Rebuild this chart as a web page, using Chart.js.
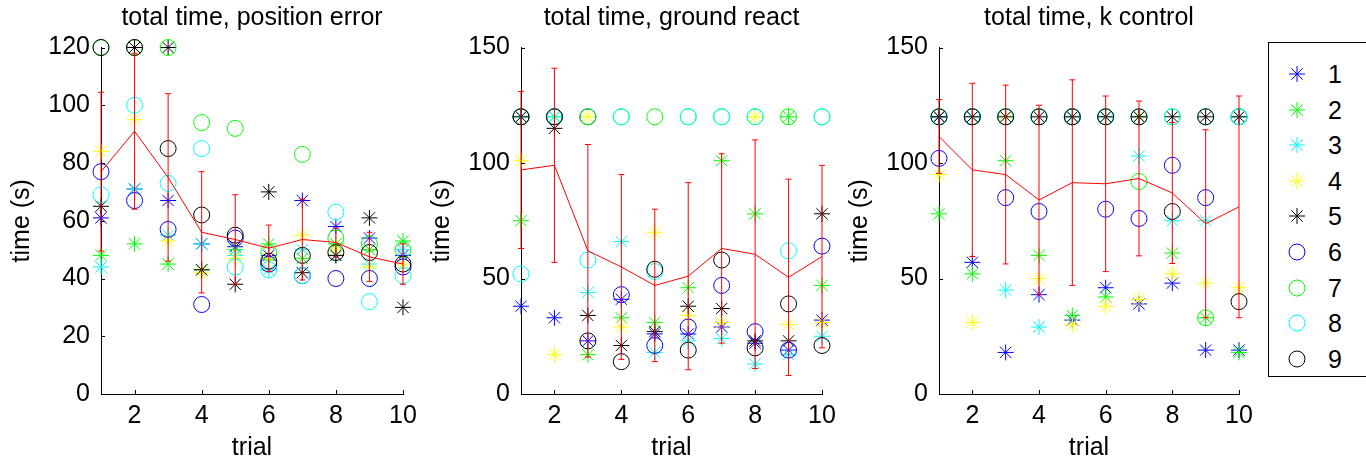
<!DOCTYPE html>
<html>
<head>
<meta charset="utf-8">
<script src="https://cdn.jsdelivr.net/npm/chart.js@4.4.1/dist/chart.umd.min.js"></script>
<style>
  html, body { margin: 0; padding: 0; background: #fff; }
  body { width: 1366px; height: 465px; position: relative; overflow: hidden; font-family: "Liberation Sans", Arial, sans-serif; }
  .panel { position: absolute; top: 0; height: 465px; }
  #legend { position: absolute; left: 1268px; top: 42px; width: 130px; height: 335px; border: 1px solid #000; background: #fff; box-sizing: border-box; }
  .entry { position: absolute; left: 0; width: 100%; height: 30px; }
  .entry svg { position: absolute; left: 18px; top: 4px; }
  .entry span { position: absolute; left: 59px; top: -1px; font-size: 25px; line-height: 30px; color: #000; }
</style>
</head>
<body>
<canvas id="c1" class="panel" width="504" height="465" style="left:0px;width:504px"></canvas>
<canvas id="c2" class="panel" width="503" height="465" style="left:420px;width:503px"></canvas>
<canvas id="c3" class="panel" width="502" height="465" style="left:838px;width:502px"></canvas>
<div id="legend"></div>
<script>
const trials = [1, 2, 3, 4, 5, 6, 7, 8, 9, 10];
const xTickLabels = [2, 4, 6, 8, 10];
const subjects = ['1', '2', '3', '4', '5', '6', '7', '8', '9'];
const subjectColors = ['#0000ff', '#00ff00', '#00ffff', '#ffff00', '#000000', '#0000ff', '#00ff00', '#00ffff', '#000000'];
const subjectMarkers = ['star', 'star', 'star', 'star', 'star', 'circle', 'circle', 'circle', 'circle'];

// total time, position error (s) - one row per subject
const positionTimes = [
  [61, 71, 67, 52, 51, 48, 67, 58, 54, 48],
  [48, 52, 45, 43, 50, 52, 47, 52, 50, 53],
  [44, 71, 55, 52, 48, 43, 50, 48, 45, 50],
  [84, 95, 53, 42, 47, 47, 55, 50, 44, 45],
  [65, 120, 120, 43, 38, 70, 42, 48, 61, 30],
  [77, 67, 57, 31, 54, 45, 41, 40, 40, 44],
  [120, 120, 120, 94, 92, 49, 83, 54, 52, 50],
  [69, 100, 73, 85, 44, 43, 41, 63, 32, 41],
  [120, 120, 85, 62, 55, 46, 48, 49, 49, 45],
];
const positionMean = [77, 91, 75, 56, 53.5, 50.5, 53.5, 52.5, 47.5, 45];
const positionSpread = [27.5, 27, 29, 21, 15.5, 8, 14, 5, 8.5, 7];
const positionYTicks = [0, 20, 40, 60, 80, 100, 120];

// total time, ground react (s)
const groundTimes = [
  [38, 33, 23, 41, 26, 26, 29, 22, 19, 32],
  [75, 120, 17, 33, 31, 46, 101, 78, 120, 47],
  [120, 120, 44, 66, 18, 23, 24, 13, 17, 25],
  [101, 17, 120, 29, 70, 34, 31, 120, 30, 31],
  [120, 115, 34, 21, 27, 38, 37, 23, 23, 78],
  [120, 120, 120, 43, 21, 29, 47, 27, 19, 64],
  [120, 120, 120, 120, 120, 120, 120, 120, 120, 120],
  [52, 120, 58, 120, 53, 120, 120, 120, 62, 120],
  [120, 120, 23, 14, 54, 19, 58, 20, 39, 21],
];
const groundMean = [97, 99, 62, 55, 47, 51, 63, 60.5, 50.5, 59.5];
const groundSpread = [34, 42, 46, 40, 33, 40.5, 41, 49.5, 42.5, 39.5];
const groundYTicks = [0, 50, 100, 150];

// total time, k control (s)
const kControlTimes = [
  [120, 57, 18, 43, 32, 46, 39, 48, 19, 19],
  [78, 52, 101, 60, 34, 42, 120, 61, 33, 18],
  [120, 120, 45, 29, 120, 120, 103, 75, 75, 120],
  [95, 31, 120, 50, 30, 38, 41, 52, 48, 46],
  [120, 120, 120, 120, 120, 120, 120, 120, 120, 120],
  [102, 120, 85, 79, 120, 80, 76, 99, 85, 120],
  [120, 120, 120, 120, 120, 120, 92, 120, 33, 120],
  [120, 120, 120, 120, 120, 120, 120, 120, 120, 120],
  [120, 120, 120, 120, 120, 120, 120, 79, 120, 40],
];
const kControlMean = [111.5, 97, 95, 84, 91.5, 91, 93.3, 87, 73.7, 81];
const kControlSpread = [16, 37.5, 38.7, 41, 44.5, 38, 33.5, 30.5, 40.7, 48];
const kControlYTicks = [0, 50, 100, 150];

const FONT_FAMILY = '"Liberation Sans", Arial, sans-serif';
const FONT_SIZE = 25;

Chart.defaults.font.family = FONT_FAMILY;
Chart.defaults.font.size = FONT_SIZE;
Chart.defaults.color = '#000';

// MATLAB style ticks pointing into the axes
const innerTicks = {
  id: 'innerTicks',
  afterDraw(chart) {
    const { ctx, chartArea: a, scales: { x, y } } = chart;
    ctx.save();
    ctx.strokeStyle = '#000';
    ctx.lineWidth = 1;
    ctx.beginPath();
    x.ticks.forEach((t) => {
      const px = Math.round(x.getPixelForValue(t.value)) + 0.5;
      ctx.moveTo(px, a.bottom);
      ctx.lineTo(px, a.bottom - 4);
    });
    y.ticks.forEach((t) => {
      const py = Math.round(y.getPixelForValue(t.value)) + 0.5;
      ctx.moveTo(a.left, py);
      ctx.lineTo(a.left + 4, py);
    });
    ctx.stroke();
    ctx.restore();
  },
};

function buildDatasets(times, mean, spread) {
  const sets = times.map((row, k) => ({
    label: subjects[k],
    data: trials.map((t, i) => ({ x: t, y: row[i] })),
    showLine: false,
    pointStyle: subjectMarkers[k],
    pointRadius: 8,
    pointBorderWidth: 1,
    borderColor: subjectColors[k],
    pointBorderColor: subjectColors[k],
    pointBackgroundColor: 'rgba(0,0,0,0)',
    backgroundColor: 'rgba(0,0,0,0)',
    clip: false,
    order: 20 - k,
  }));

  sets.push({
    label: 'spread',
    data: trials.flatMap((t, i) => [
      { x: t, y: mean[i] - spread[i] },
      { x: t, y: mean[i] + spread[i] },
      { x: t, y: null },
    ]),
    borderColor: '#ff0000',
    borderWidth: 1,
    pointStyle: 'line',
    pointRadius: 3,
    pointBorderColor: '#ff0000',
    pointBorderWidth: 1,
    spanGaps: false,
    tension: 0,
    clip: false,
    order: 1,
  });

  sets.push({
    label: 'mean',
    data: trials.map((t, i) => ({ x: t, y: mean[i] })),
    borderColor: '#ff0000',
    borderWidth: 1,
    pointRadius: 0,
    tension: 0,
    clip: false,
    order: 0,
  });
  return sets;
}

function makePanel(id, title, times, mean, spread, yTicks) {
  new Chart(document.getElementById(id), {
    type: 'line',
    data: { datasets: buildDatasets(times, mean, spread) },
    plugins: [innerTicks],
    options: {
      responsive: false,
      animation: false,
      devicePixelRatio: 1,
      events: [],
      layout: { padding: { top: 0, left: 0, right: 101, bottom: 0 } },
      plugins: {
        legend: { display: false },
        tooltip: { enabled: false },
        title: {
          display: true,
          fullSize: false,
          text: title,
          color: '#000',
          font: { size: FONT_SIZE, weight: 'normal' },
          padding: { top: 3, bottom: 14.5 },
        },
      },
      scales: {
        x: {
          type: 'linear',
          min: 1,
          max: 10,
          grid: { display: false, drawTicks: false },
          border: { display: true, color: '#000', width: 1 },
          ticks: { color: '#000', padding: 7, font: { size: FONT_SIZE } },
          afterBuildTicks: (s) => { s.ticks = xTickLabels.map((v) => ({ value: v })); },
          afterFit: (s) => { s.height = 71; },
          title: { display: true, text: 'trial', color: '#000', font: { size: FONT_SIZE }, padding: { top: 0, bottom: 2 } },
        },
        y: {
          type: 'linear',
          min: yTicks[0],
          max: yTicks[yTicks.length - 1],
          grid: { display: false, drawTicks: false },
          border: { display: true, color: '#000', width: 1 },
          ticks: { color: '#000', padding: 11, font: { size: FONT_SIZE } },
          afterBuildTicks: (s) => { s.ticks = yTicks.map((v) => ({ value: v })); },
          afterFit: (s) => { s.width = 101; },
          title: { display: true, text: 'time (s)', color: '#000', font: { size: FONT_SIZE }, padding: { top: 7, bottom: 0 } },
        },
      },
    },
  });
}

makePanel('c1', 'total time, position error', positionTimes, positionMean, positionSpread, positionYTicks);
makePanel('c2', 'total time, ground react', groundTimes, groundMean, groundSpread, groundYTicks);
makePanel('c3', 'total time, k control', kControlTimes, kControlMean, kControlSpread, kControlYTicks);

// legend
function markerSvg(style, color) {
  const r = 8, c = 10;
  let body;
  if (style === 'circle') {
    body = `<circle cx="${c}" cy="${c}" r="${r}" fill="none" stroke="${color}" stroke-width="1"/>`;
  } else {
    const d = r * Math.SQRT1_2;
    body = `<path d="M${c - r} ${c}H${c + r}M${c} ${c - r}V${c + r}M${c - d} ${c - d}L${c + d} ${c + d}M${c - d} ${c + d}L${c + d} ${c - d}" stroke="${color}" stroke-width="1" fill="none"/>`;
  }
  return `<svg width="20" height="20" viewBox="0 0 20 20">${body}</svg>`;
}

const legend = document.getElementById('legend');
legend.innerHTML = subjects.map((name, k) => `
  <div class="entry" style="top:${17 + k * 35.6}px">
    ${markerSvg(subjectMarkers[k], subjectColors[k])}
    <span>${name}</span>
  </div>`).join('');
</script>
</body>
</html>
